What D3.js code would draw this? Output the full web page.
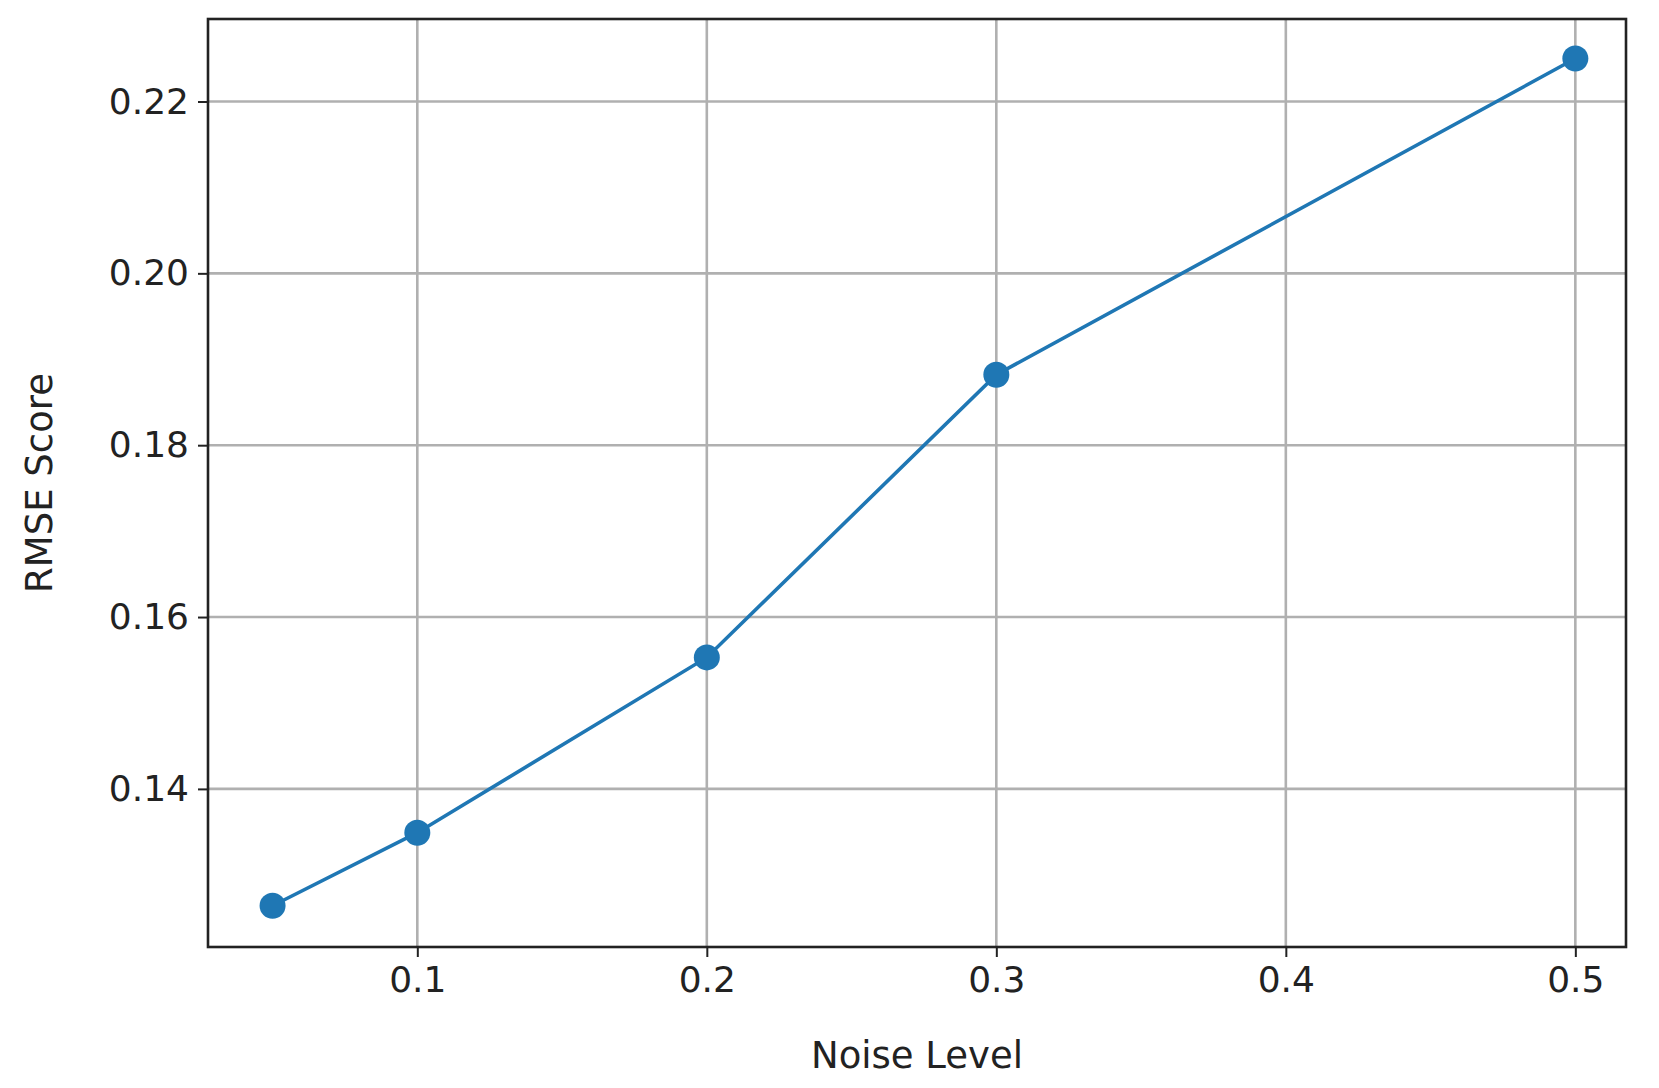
<!DOCTYPE html>
<html><head><meta charset="utf-8">
<script src="https://cdn.jsdelivr.net/npm/d3@7"></script>
<style>body{margin:0;background:#fff}text{font-family:"DejaVu Sans",sans-serif;fill:#222}</style>
</head><body><svg id="c" width="1659" height="1088"></svg>
<script>
const noise=[0.05,0.1,0.2,0.3,0.5];
const rmse=[0.1264,0.1349,0.1553,0.1882,0.2250];
const xTicks=[0.1,0.2,0.3,0.4,0.5];
const yTicks=[0.14,0.16,0.18,0.20,0.22];
const L=208,R=1626,T=19,B=947;
const svg=d3.select("#c");
const x=d3.scaleLinear().domain([0.0277,0.5175]).range([L,R]);
const y=d3.scaleLinear().domain([0.1216,0.2296]).range([B,T]);
const g=svg.append("g");
g.selectAll(".gx").data(xTicks).join("line").attr("x1",d=>x(d)).attr("x2",d=>x(d)).attr("y1",T).attr("y2",B).attr("stroke","#b0b0b0").attr("stroke-width",2.6);
g.selectAll(".gy").data(yTicks).join("line").attr("y1",d=>y(d)).attr("y2",d=>y(d)).attr("x1",L).attr("x2",R).attr("stroke","#b0b0b0").attr("stroke-width",2.6);
const ax=svg.append("g").attr("transform",`translate(0,${B})`).call(d3.axisBottom(x).tickValues(xTicks).tickFormat(d3.format(".1f")).tickSize(10).tickPadding(9));
const ay=svg.append("g").attr("transform",`translate(${L},0)`).call(d3.axisLeft(y).tickValues(yTicks).tickFormat(d3.format(".2f")).tickSize(10).tickPadding(9));
[ax,ay].forEach(a=>{a.select(".domain").remove();a.selectAll("line").attr("stroke","#222").attr("stroke-width",2);a.selectAll("text").attr("font-size",36).style("font-family","DejaVu Sans");});
svg.append("path").datum(noise.map((d,i)=>[d,rmse[i]])).attr("fill","none").attr("stroke","#1f77b4").attr("stroke-width",3.6).attr("d",d3.line().x(d=>x(d[0])).y(d=>y(d[1])));
svg.selectAll(".pt").data(noise).join("circle").attr("cx",d=>x(d)).attr("cy",(d,i)=>y(rmse[i])).attr("r",13).attr("fill","#1f77b4");
svg.append("rect").attr("x",L).attr("y",T).attr("width",R-L).attr("height",B-T).attr("fill","none").attr("stroke","#222").attr("stroke-width",2.6);
svg.append("text").attr("x",(L+R)/2).attr("y",1068).attr("text-anchor","middle").attr("font-size",37).text("Noise Level");
svg.append("text").attr("transform",`translate(52,${(T+B)/2}) rotate(-90)`).attr("text-anchor","middle").attr("font-size",37).text("RMSE Score");
</script></body></html>
